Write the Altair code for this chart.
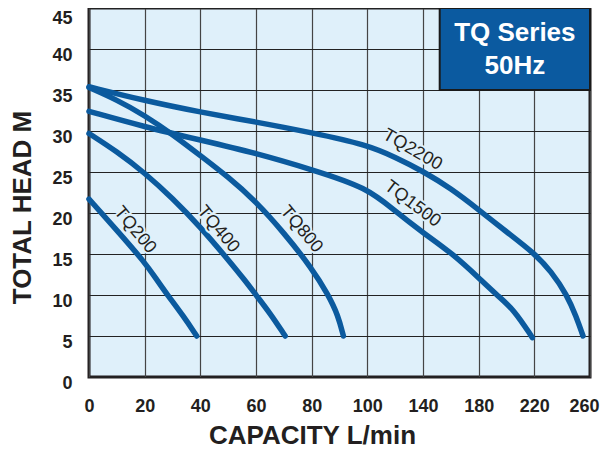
import altair as alt
import pandas as pd

# ---- data ----
tq200_q = [0, 10, 20, 24.5, 28, 34, 38.7]
tq200_h = [21.7, 17.9, 14.0, 11.8, 10.1, 7.4, 5.0]

tq400_q = [0, 10, 20, 30, 40, 50, 56, 60, 65, 70.5]
tq400_h = [29.7, 27.5, 24.9, 21.8, 18.3, 14.3, 11.8, 10.0, 7.8, 5.0]

tq800_q = [0, 10, 20, 30, 40, 50, 60, 70, 80, 86, 89.5, 91.4]
tq800_h = [35.3, 33.8, 31.9, 29.6, 27.0, 24.4, 21.4, 17.6, 13.3, 10.0, 7.5, 5.0]

tq1500_q = [0, 20, 40, 60, 80, 100, 120, 140, 161.6, 180, 193, 205, 218.6]
tq1500_h = [32.4, 30.5, 28.9, 27.3, 25.3, 23.1, 20.2, 17.6, 15.0, 12.1, 10.0, 8.3, 4.8]

tq2200_q = [0, 20, 40, 60, 80, 100, 120, 140, 160, 180, 200, 220, 232, 243.5, 250, 255]
tq2200_h = [35.4, 33.7, 32.3, 31.1, 29.8, 28.3, 26.8, 25.1, 23.0, 20.4, 17.7, 15.1, 12.9, 10.0, 7.4, 5.0]

label_text = ["TQ200", "TQ400", "TQ800", "TQ2200", "TQ1500"]
label_q = [16.5, 46.4, 76.3, 132.4, 132.4]
label_h = [17.9, 18.0, 18.0, 27.7, 21.1]
label_angle = [50, 50, 50, 30, 37]

x_ticks = [0, 20, 40, 60, 80, 100, 140, 180, 220, 260]
y_ticks = [0, 5, 10, 15, 20, 25, 30, 35, 40, 45]

box_q = [152, 260]
box_h = [35, 45]
box_text = ["TQ Series", "50Hz"]
box_text_q = [206, 206]
box_text_h = [41.9, 37.9]

# ---- tables ----
rows = []
for name, qs, hs in [("TQ200", tq200_q, tq200_h), ("TQ400", tq400_q, tq400_h),
                     ("TQ800", tq800_q, tq800_h), ("TQ1500", tq1500_q, tq1500_h),
                     ("TQ2200", tq2200_q, tq2200_h)]:
    for i, (q, h) in enumerate(zip(qs, hs)):
        rows.append({"series": name, "q": q, "h": h, "ord": i})
curves = pd.DataFrame(rows)
labels = pd.DataFrame({"t": label_text, "q": label_q, "h": label_h, "a": label_angle})
box = pd.DataFrame({"q": [box_q[0]], "q2": [box_q[1]], "h": [box_h[0]], "h2": [box_h[1]]})
boxt = pd.DataFrame({"t": box_text, "q": box_text_q, "h": box_text_h})

W, H = 501, 369
FONT = "Liberation Sans"
DARK = "#231f20"
BLUE = "#0b5a9e"
BG = "#dff0fa"

xscale = alt.Scale(domain=[0, 100, 260], range=[0, W * 5 / 9, W])
yscale = alt.Scale(domain=[0, 45], nice=False)

xaxis = alt.Axis(values=x_ticks, grid=True, gridColor="#444", gridWidth=1.2, domain=False,
                 ticks=False, labelFont=FONT, labelFontSize=18, labelFontWeight="bold",
                 labelColor=DARK, labelPadding=20, labelFlush=False, labelOverlap=False,
                 labelOffset={"condition": {"test": "datum.value == 260", "value": -6}, "value": 0},
                 title="CAPACITY L/min", titleFont=FONT, titleFontSize=26,
                 titleFontWeight="bold", titleColor=DARK, titlePadding=7, titleX=223)
yaxis = alt.Axis(values=y_ticks, grid=True, gridColor="#222", gridWidth=1.2, domain=False,
                 ticks=False, labelFont=FONT, labelFontSize=18, labelFontWeight="bold",
                 labelColor=DARK, labelPadding=17, labelOverlap=False,
                 labelOffset={"condition": {"test": "datum.value == 45", "value": 10.5}, "value": 6},
                 title="TOTAL HEAD M", titleFont=FONT, titleFontSize=26,
                 titleFontWeight="bold", titleColor=DARK, titlePadding=16, titleY=199)

base_x = alt.X("q:Q", scale=xscale, axis=xaxis)
base_y = alt.Y("h:Q", scale=yscale, axis=yaxis)

lines = alt.Chart(curves).mark_line(
    interpolate="basis", strokeWidth=5.5, strokeCap="round", color=BLUE
).encode(x=base_x, y=base_y, detail="series:N", order="ord:Q")

halo = alt.Chart(labels).mark_text(
    font=FONT, fontSize=18, stroke=BG, strokeWidth=4, color=BG,
    align="center", baseline="middle"
).encode(x=alt.X("q:Q", scale=xscale), y=alt.Y("h:Q", scale=yscale), text="t:N",
         angle=alt.Angle("a:Q", scale=None))

ltext = alt.Chart(labels).mark_text(
    font=FONT, fontSize=18, color=DARK, align="center", baseline="middle"
).encode(x=alt.X("q:Q", scale=xscale), y=alt.Y("h:Q", scale=yscale), text="t:N",
         angle=alt.Angle("a:Q", scale=None))

boxr = alt.Chart(box).mark_rect(fill="#0b5aa0", stroke="#1a1a1a", strokeWidth=2).encode(
    x=alt.X("q:Q", scale=xscale), x2="q2:Q", y=alt.Y("h:Q", scale=yscale), y2="h2:Q")

boxtxt = alt.Chart(boxt).mark_text(
    font=FONT, fontSize=26, fontWeight="bold", color="white", align="center", baseline="middle"
).encode(x=alt.X("q:Q", scale=xscale), y=alt.Y("h:Q", scale=yscale), text="t:N")

chart = alt.layer(lines, halo, ltext, boxr, boxtxt).properties(
    width=W, height=H,
    autosize=alt.AutoSizeParams(type="none"),
    padding={"left": 81, "top": 0, "right": 10, "bottom": 71},
    background="white",
).configure_view(stroke=DARK, strokeWidth=3, fill=BG)

chart.save("out.html", embed_options={"renderer": "svg", "actions": False})
